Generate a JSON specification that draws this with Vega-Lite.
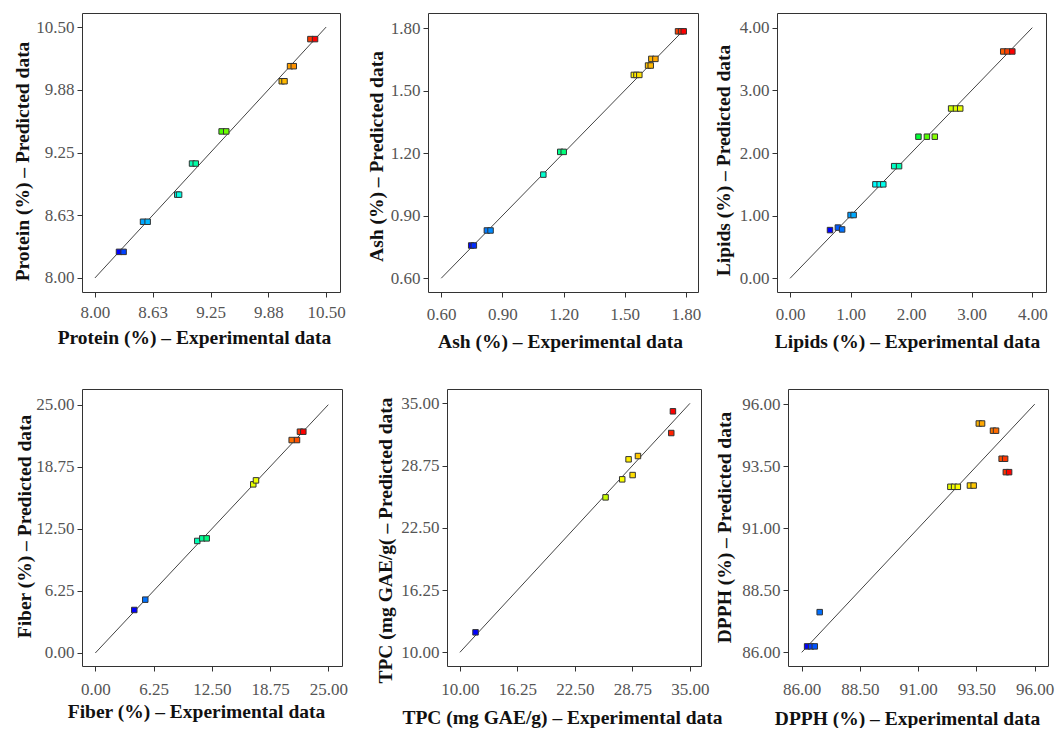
{
  "$schema": "https://vega.github.io/schema/vega-lite/v6.json",
  "background": "white",
  "padding": {"left": 12, "top": 12, "right": 0, "bottom": 0},
  "spacing": 37,
  "datasets": {
    "protein": [
      {"exp": 8.26, "pred": 8.26}, {"exp": 8.31, "pred": 8.26},
      {"exp": 8.52, "pred": 8.56}, {"exp": 8.57, "pred": 8.56},
      {"exp": 8.89, "pred": 8.83}, {"exp": 8.91, "pred": 8.83},
      {"exp": 9.05, "pred": 9.14}, {"exp": 9.09, "pred": 9.14},
      {"exp": 9.37, "pred": 9.46}, {"exp": 9.42, "pred": 9.46},
      {"exp": 10.02, "pred": 9.96}, {"exp": 10.05, "pred": 9.96},
      {"exp": 10.11, "pred": 10.11}, {"exp": 10.15, "pred": 10.11},
      {"exp": 10.33, "pred": 10.38}, {"exp": 10.38, "pred": 10.38}
    ],
    "protein_line": [{"exp": 8, "pred": 8}, {"exp": 10.5, "pred": 10.5}],
    "ash": [
      {"exp": 0.747, "pred": 0.757}, {"exp": 0.76, "pred": 0.757},
      {"exp": 0.824, "pred": 0.829}, {"exp": 0.842, "pred": 0.829},
      {"exp": 1.101, "pred": 1.097},
      {"exp": 1.184, "pred": 1.206}, {"exp": 1.201, "pred": 1.206},
      {"exp": 1.545, "pred": 1.575}, {"exp": 1.558, "pred": 1.575}, {"exp": 1.572, "pred": 1.575},
      {"exp": 1.615, "pred": 1.62}, {"exp": 1.628, "pred": 1.62},
      {"exp": 1.631, "pred": 1.652}, {"exp": 1.651, "pred": 1.652},
      {"exp": 1.762, "pred": 1.784}, {"exp": 1.777, "pred": 1.784}, {"exp": 1.79, "pred": 1.784}
    ],
    "ash_line": [{"exp": 0.6, "pred": 0.6}, {"exp": 1.8, "pred": 1.8}],
    "lipids": [
      {"exp": 0.66, "pred": 0.77}, {"exp": 0.79, "pred": 0.81}, {"exp": 0.86, "pred": 0.78},
      {"exp": 1.0, "pred": 1.01}, {"exp": 1.05, "pred": 1.01},
      {"exp": 1.41, "pred": 1.5}, {"exp": 1.48, "pred": 1.5}, {"exp": 1.54, "pred": 1.5},
      {"exp": 1.72, "pred": 1.79}, {"exp": 1.8, "pred": 1.79},
      {"exp": 2.12, "pred": 2.26}, {"exp": 2.26, "pred": 2.26}, {"exp": 2.39, "pred": 2.26},
      {"exp": 2.66, "pred": 2.71}, {"exp": 2.74, "pred": 2.71}, {"exp": 2.81, "pred": 2.71},
      {"exp": 3.52, "pred": 3.62}, {"exp": 3.59, "pred": 3.62}, {"exp": 3.67, "pred": 3.62}
    ],
    "lipids_line": [{"exp": 0, "pred": 0}, {"exp": 4, "pred": 4}],
    "fiber": [
      {"exp": 4.18, "pred": 4.33}, {"exp": 5.36, "pred": 5.37},
      {"exp": 10.94, "pred": 11.28}, {"exp": 11.48, "pred": 11.54}, {"exp": 11.95, "pred": 11.54},
      {"exp": 16.95, "pred": 16.98}, {"exp": 17.24, "pred": 17.38},
      {"exp": 21.07, "pred": 21.44}, {"exp": 21.64, "pred": 21.44},
      {"exp": 21.96, "pred": 22.28}, {"exp": 22.32, "pred": 22.28}
    ],
    "fiber_line": [{"exp": 0, "pred": 0}, {"exp": 25, "pred": 25}],
    "tpc": [
      {"exp": 11.7, "pred": 12.01}, {"exp": 25.83, "pred": 25.56},
      {"exp": 27.64, "pred": 27.37}, {"exp": 28.33, "pred": 29.38},
      {"exp": 28.77, "pred": 27.8}, {"exp": 29.35, "pred": 29.71},
      {"exp": 33.15, "pred": 34.2}, {"exp": 32.97, "pred": 32.02}
    ],
    "tpc_line": [{"exp": 10, "pred": 10}, {"exp": 35, "pred": 35}],
    "dpph": [
      {"exp": 86.23, "pred": 86.24}, {"exp": 86.4, "pred": 86.24}, {"exp": 86.56, "pred": 86.24},
      {"exp": 86.77, "pred": 87.62},
      {"exp": 92.38, "pred": 92.67}, {"exp": 92.54, "pred": 92.67}, {"exp": 92.7, "pred": 92.67},
      {"exp": 93.22, "pred": 92.72}, {"exp": 93.38, "pred": 92.72},
      {"exp": 93.6, "pred": 95.22}, {"exp": 93.74, "pred": 95.22},
      {"exp": 94.21, "pred": 94.93}, {"exp": 94.34, "pred": 94.93},
      {"exp": 94.58, "pred": 93.8}, {"exp": 94.73, "pred": 93.8},
      {"exp": 94.76, "pred": 93.26}, {"exp": 94.9, "pred": 93.26}
    ],
    "dpph_line": [{"exp": 86, "pred": 86}, {"exp": 96, "pred": 96}]
  },
  "resolve": {"scale": {"color": "independent"}, "legend": {"color": "independent"}},
  "vconcat": [
    {
      "spacing": 19,
      "resolve": {"scale": {"color": "independent"}, "legend": {"color": "independent"}},
      "hconcat": [
        {
          "width": 258, "height": 279,
          "encoding": {
            "x": {"field": "exp", "type": "quantitative", "scale": {"domain": [7.86, 10.65], "nice": false, "zero": false},
                  "axis": {"values": [8, 8.625, 9.25, 9.875, 10.5], "format": ".2f", "title": "Protein (%) – Experimental data", "titleX": 112}},
            "y": {"field": "pred", "type": "quantitative", "scale": {"domain": [7.86, 10.64], "nice": false, "zero": false},
                  "axis": {"values": [8, 8.625, 9.25, 9.875, 10.5], "format": ".2f", "title": "Protein (%) – Predicted data", "titleY": 148, "titlePadding": 3}}
          },
          "layer": [
            {"data": {"name": "protein_line"}, "mark": {"type": "line", "color": "#444", "strokeWidth": 1}, "encoding": {}},
            {"data": {"name": "protein"}, "mark": {"type": "point", "shape": "square", "filled": true, "size": 30, "stroke": "#333", "strokeWidth": 1, "opacity": 1},
             "encoding": {"color": {"field": "exp", "type": "quantitative", "legend": null,
               "scale": {"domain": [8.26, 8.789, 9.319, 9.848, 10.377], "range": ["#0000ff", "#00ffff", "#00ff00", "#ffff00", "#ff0000"]}}}}
          ]
        },
        {
          "spacing": 10,
          "resolve": {"scale": {"color": "independent"}, "legend": {"color": "independent"}},
          "hconcat": [
            {
              "width": 270, "height": 279,
              "encoding": {
                "x": {"field": "exp", "type": "quantitative", "scale": {"domain": [0.535, 1.86], "nice": false, "zero": false},
                      "axis": {"values": [0.6, 0.9, 1.2, 1.5, 1.8], "format": ".2f", "title": "Ash (%) – Experimental data", "titleX": 132, "labelPadding": 9, "titlePadding": 10}},
                "y": {"field": "pred", "type": "quantitative", "scale": {"domain": [0.534, 1.872], "nice": false, "zero": false},
                      "axis": {"values": [0.6, 0.9, 1.2, 1.5, 1.8], "format": ".2f", "title": "Ash (%) – Predicted data", "titleY": 143, "titlePadding": 4}}
              },
              "layer": [
                {"data": {"name": "ash_line"}, "mark": {"type": "line", "color": "#444", "strokeWidth": 1}, "encoding": {}},
                {"data": {"name": "ash"}, "mark": {"type": "point", "shape": "square", "filled": true, "size": 30, "stroke": "#333", "strokeWidth": 1, "opacity": 1},
                 "encoding": {"color": {"field": "exp", "type": "quantitative", "legend": null,
                   "scale": {"domain": [0.747, 1.008, 1.269, 1.529, 1.79], "range": ["#0000ff", "#00ffff", "#00ff00", "#ffff00", "#ff0000"]}}}}
              ]
            },
            {
              "width": 269, "height": 279,
              "encoding": {
                "x": {"field": "exp", "type": "quantitative", "scale": {"domain": [-0.215, 4.226], "nice": false, "zero": false},
                      "axis": {"values": [0, 1, 2, 3, 4], "format": ".2f", "title": "Lipids (%) – Experimental data", "titleX": 130, "labelPadding": 9, "titlePadding": 10}},
                "y": {"field": "pred", "type": "quantitative", "scale": {"domain": [-0.218, 4.234], "nice": false, "zero": false},
                      "axis": {"values": [0, 1, 2, 3, 4], "format": ".2f", "title": "Lipids (%) – Predicted data", "titleY": 147, "titlePadding": 6}}
              },
              "layer": [
                {"data": {"name": "lipids_line"}, "mark": {"type": "line", "color": "#444", "strokeWidth": 1}, "encoding": {}},
                {"data": {"name": "lipids"}, "mark": {"type": "point", "shape": "square", "filled": true, "size": 30, "stroke": "#333", "strokeWidth": 1, "opacity": 1},
                 "encoding": {"color": {"field": "exp", "type": "quantitative", "legend": null,
                   "scale": {"domain": [0.66, 1.4125, 2.165, 2.9175, 3.67], "range": ["#0000ff", "#00ffff", "#00ff00", "#ffff00", "#ff0000"]}}}}
              ]
            }
          ]
        }
      ]
    },
    {
      "spacing": 27,
      "resolve": {"scale": {"color": "independent"}, "legend": {"color": "independent"}},
      "hconcat": [
        {
          "width": 260, "height": 277,
          "encoding": {
            "x": {"field": "exp", "type": "quantitative", "scale": {"domain": [-1.43, 26.47], "nice": false, "zero": false},
                  "axis": {"values": [0, 6.25, 12.5, 18.75, 25], "format": ".2f", "title": "Fiber (%) – Experimental data", "titleX": 114, "labelPadding": 10, "titlePadding": 5}},
            "y": {"field": "pred", "type": "quantitative", "scale": {"domain": [-1.31, 26.58], "nice": false, "zero": false},
                  "axis": {"values": [0, 6.25, 12.5, 18.75, 25], "format": ".2f", "title": "Fiber (%) – Predicted data", "titleY": 137, "titlePadding": 1}}
          },
          "layer": [
            {"data": {"name": "fiber_line"}, "mark": {"type": "line", "color": "#444", "strokeWidth": 1}, "encoding": {}},
            {"data": {"name": "fiber"}, "mark": {"type": "point", "shape": "square", "filled": true, "size": 30, "stroke": "#333", "strokeWidth": 1, "opacity": 1},
             "encoding": {"color": {"field": "exp", "type": "quantitative", "legend": null,
               "scale": {"domain": [4.18, 8.715, 13.25, 17.785, 22.32], "range": ["#0000ff", "#00ffff", "#00ff00", "#ffff00", "#ff0000"]}}}}
          ]
        },
        {
          "spacing": -9,
          "resolve": {"scale": {"color": "independent"}, "legend": {"color": "independent"}},
          "hconcat": [
            {
              "width": 254, "height": 277,
              "encoding": {
                "x": {"field": "exp", "type": "quantitative", "scale": {"domain": [8.6, 36.2], "nice": false, "zero": false},
                      "axis": {"values": [10, 16.25, 22.5, 28.75, 35], "format": ".2f", "title": "TPC (mg GAE/g) – Experimental data", "titleX": 115, "labelPadding": 10, "titlePadding": 11}},
                "y": {"field": "pred", "type": "quantitative", "scale": {"domain": [8.63, 36.44], "nice": false, "zero": false},
                      "axis": {"values": [10, 16.25, 22.5, 28.75, 35], "format": ".2f", "title": "TPC (mg GAE/g( – Predicted data", "titleY": 151, "titlePadding": 5}}
              },
              "layer": [
                {"data": {"name": "tpc_line"}, "mark": {"type": "line", "color": "#444", "strokeWidth": 1}, "encoding": {}},
                {"data": {"name": "tpc"}, "mark": {"type": "point", "shape": "square", "filled": true, "size": 30, "stroke": "#333", "strokeWidth": 1, "opacity": 1},
                 "encoding": {"color": {"field": "exp", "type": "quantitative", "legend": null,
                   "scale": {"domain": [11.7, 17.06, 22.43, 27.79, 33.15], "range": ["#0000ff", "#00ffff", "#00ff00", "#ffff00", "#ff0000"]}}}}
              ]
            },
            {
              "width": 260, "height": 277,
              "encoding": {
                "x": {"field": "exp", "type": "quantitative", "scale": {"domain": [85.41, 96.57], "nice": false, "zero": false},
                      "axis": {"values": [86, 88.5, 91, 93.5, 96], "format": ".2f", "title": "DPPH (%) – Experimental data", "titleX": 119, "labelPadding": 10, "titlePadding": 12}},
                "y": {"field": "pred", "type": "quantitative", "scale": {"domain": [85.45, 96.61], "nice": false, "zero": false},
                      "axis": {"values": [86, 88.5, 91, 93.5, 96], "format": ".2f", "title": "DPPH (%) – Predicted data", "titleY": 138, "titlePadding": 7}}
              },
              "layer": [
                {"data": {"name": "dpph_line"}, "mark": {"type": "line", "color": "#444", "strokeWidth": 1}, "encoding": {}},
                {"data": {"name": "dpph"}, "mark": {"type": "point", "shape": "square", "filled": true, "size": 30, "stroke": "#333", "strokeWidth": 1, "opacity": 1},
                 "encoding": {"color": {"field": "exp", "type": "quantitative", "legend": null,
                   "scale": {"domain": [86.23, 88.4, 90.57, 92.73, 94.9], "range": ["#0000ff", "#00ffff", "#00ff00", "#ffff00", "#ff0000"]}}}}
              ]
            }
          ]
        }
      ]
    }
  ],
  "config": {
    "view": {"stroke": "#333", "strokeWidth": 1},
    "axis": {
      "grid": false, "domain": false, "tickColor": "#333", "tickSize": 5,
      "labelFont": "Liberation Serif", "labelFontSize": 17, "labelColor": "#555",
      "titleFont": "Liberation Serif", "titleFontSize": 19.5, "titleFontWeight": "bold", "titleColor": "#111"
    },
    "axisX": {"labelPadding": 7, "titlePadding": 8},
    "axisY": {"labelPadding": 3}
  }
}
